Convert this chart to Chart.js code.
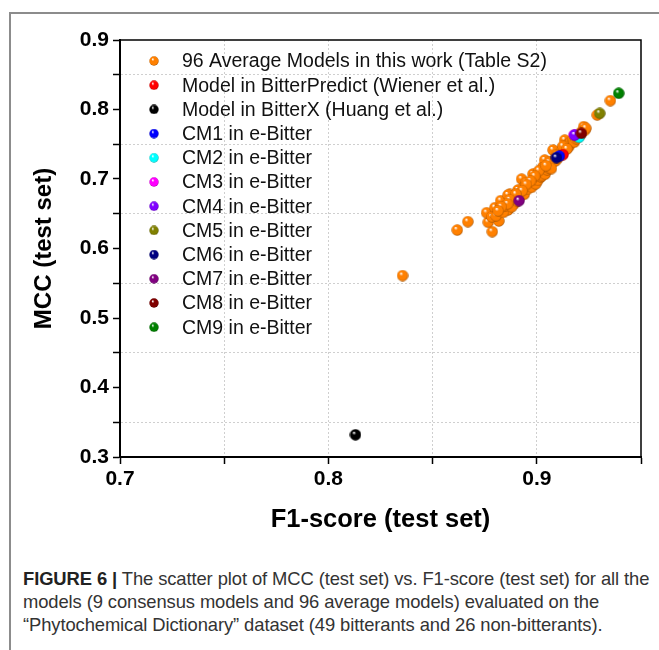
<!DOCTYPE html>
<html>
<head>
<meta charset="utf-8">
<script src="https://cdn.jsdelivr.net/npm/chart.js@4.4.1/dist/chart.umd.min.js"></script>
<style>
  body { margin: 0; background: #fff; width: 659px; height: 650px; overflow: hidden; position: relative; font-family: "Liberation Sans", Arial, sans-serif; }
  #frame { position: absolute; left: 9px; top: 12px; right: 0; bottom: 0; border-left: 2px solid #8c8c8c; border-top: 2px solid #8c8c8c; }
  #wrap { position: absolute; left: 0; top: 0; width: 659px; height: 545px; }
  #caption { position: absolute; left: 23px; top: 567px; font-size: 18.4px; line-height: 23px; color: #333; white-space: nowrap; letter-spacing: -0.1px; }
  #caption b { color: #222; }
</style>
</head>
<body>
<div id="frame"></div>
<div id="wrap"><canvas id="mcc-f1-chart" width="659" height="545"></canvas></div>
<div id="caption">
  <b>FIGURE 6 |</b> The scatter plot of MCC (test set) vs. F1-score (test set) for all the<br>
  models (9 consensus models and 96 average models) evaluated on the<br>
  “Phytochemical Dictionary” dataset (49 bitterants and 26 non-bitterants).
</div>
<script>
// 96 average models (many overlap in the band)
const avgF1 = [
  0.8618, 0.8669, 0.8786, 0.8767, 0.8818, 0.8759, 0.8799, 0.8827, 0.8823, 0.8862,
  0.8870, 0.8894, 0.8927, 0.8918, 0.8947, 0.8982, 0.9014, 0.9030, 0.8356, 0.9353,
  0.9290, 0.9225, 0.9134, 0.9123, 0.9078, 0.9038, 0.9030, 0.8934, 0.8910, 0.8862,
  0.8785, 0.8805, 0.8840, 0.8850, 0.8880, 0.8895, 0.8905, 0.8920, 0.8940, 0.8955,
  0.8960, 0.8975, 0.8985, 0.8995, 0.9000, 0.9005, 0.9020, 0.9025, 0.9035, 0.9040,
  0.9050, 0.9055, 0.9060, 0.9065, 0.9070, 0.9075, 0.9085, 0.9090, 0.9100, 0.9105,
  0.9110, 0.9115, 0.9120, 0.9130, 0.9135, 0.9140, 0.9150, 0.9155, 0.9160, 0.9165,
  0.9175, 0.9180, 0.9190, 0.9195, 0.9205, 0.9210, 0.9215, 0.9230, 0.9235, 0.9010,
  0.8990, 0.8970, 0.8950, 0.8930, 0.8900, 0.8870, 0.8860, 0.8830, 0.8815, 0.9060,
  0.9095, 0.9125, 0.9070, 0.9045, 0.9145, 0.9185
];
const avgMCC = [
  0.6266, 0.6386, 0.6242, 0.6377, 0.6396, 0.6515, 0.6588, 0.6688, 0.6564, 0.6554,
  0.6780, 0.6650, 0.6999, 0.6817, 0.6947, 0.7072, 0.7082, 0.7177, 0.5610, 0.8127,
  0.7920, 0.7753, 0.7560, 0.7442, 0.7417, 0.7273, 0.7154, 0.6866, 0.6842, 0.6770,
  0.6455, 0.6470, 0.6520, 0.6610, 0.6600, 0.6720, 0.6690, 0.6750, 0.6780, 0.6850,
  0.6900, 0.6880, 0.6950, 0.6930, 0.7000, 0.6980, 0.7030, 0.7050, 0.7100, 0.7070,
  0.7130, 0.7160, 0.7200, 0.7180, 0.7230, 0.7250, 0.7280, 0.7260, 0.7300, 0.7330,
  0.7350, 0.7380, 0.7400, 0.7420, 0.7460, 0.7480, 0.7500, 0.7470, 0.7520, 0.7540,
  0.7560, 0.7530, 0.7580, 0.7600, 0.7620, 0.7650, 0.7680, 0.7700, 0.7730, 0.7120,
  0.7040, 0.6970, 0.6920, 0.6830, 0.6780, 0.6700, 0.6640, 0.6600, 0.6540, 0.7240,
  0.7340, 0.7470, 0.7150, 0.7190, 0.7430, 0.7620
];

// single models
const modelNames = [
  'Model in BitterPredict (Wiener et al.)',
  'Model in BitterX (Huang et al.)',
  'CM1 in e-Bitter', 'CM2 in e-Bitter', 'CM3 in e-Bitter', 'CM4 in e-Bitter',
  'CM5 in e-Bitter', 'CM6 in e-Bitter', 'CM7 in e-Bitter', 'CM8 in e-Bitter',
  'CM9 in e-Bitter'
];
const modelF1 = [0.9126, 0.8130, 0.9108, 0.9203, 0.9180, 0.9182, 0.9302, 0.9094, 0.8915, 0.9214, 0.9393];
const modelMCC = [0.7350, 0.3320, 0.7330, 0.7600, 0.7635, 0.7633, 0.7945, 0.7307, 0.6688, 0.7657, 0.8233];

const avgLabel = '96 Average Models in this work (Table S2)';
const xTicks = [0.7, 0.8, 0.9];

// styling
const avgColor = '#ff8000';
const modelColors = ['#ff0000', '#000000', '#0000ff', '#00ffff', '#ff00ff', '#8000ff',
                     '#808000', '#000080', '#800080', '#800000', '#008000'];

// glossy ball markers like Origin draws them
function ball(hex, d) {
  const c = document.createElement('canvas');
  c.width = d; c.height = d;
  const g = c.getContext('2d');
  const r = d / 2;
  const n = parseInt(hex.slice(1), 16);
  const rr = n >> 16, gg = (n >> 8) & 255, bb = n & 255;
  const dark = `rgb(${Math.round(rr * 0.6)},${Math.round(gg * 0.6)},${Math.round(bb * 0.6)})`;
  const grad = g.createRadialGradient(r * 0.72, r * 0.62, r * 0.05, r, r, r);
  grad.addColorStop(0, '#ffffff');
  grad.addColorStop(0.28, hex);
  grad.addColorStop(0.78, hex);
  grad.addColorStop(1, dark);
  g.fillStyle = grad;
  g.beginPath();
  g.arc(r, r, r - 0.3, 0, Math.PI * 2);
  g.fill();
  return c;
}

const allColors = [avgColor].concat(modelColors);
const dots = allColors.map(c => ball(c, 12));
const legendDots = allColors.map(c => ball(c, 10));

const datasets = [{
  label: avgLabel,
  data: avgF1.map((x, i) => ({ x: x, y: avgMCC[i] })),
  pointStyle: dots[0],
  order: 11
}];
modelNames.forEach((name, i) => {
  datasets.push({
    label: name,
    data: [{ x: modelF1[i], y: modelMCC[i] }],
    pointStyle: dots[i + 1],
    order: 10 - i
  });
});

const isMajor = v => Math.round(v * 100) % 10 === 0;

const frameBox = {
  id: 'frameBox',
  afterDraw(chart) {
    const { ctx, chartArea } = chart;
    ctx.save();
    ctx.strokeStyle = '#000';
    ctx.lineWidth = 1.5;
    ctx.beginPath();
    ctx.moveTo(chartArea.left, chartArea.top);
    ctx.lineTo(chartArea.right, chartArea.top);
    ctx.lineTo(chartArea.right, chartArea.bottom);
    ctx.stroke();
    ctx.restore();
  }
};

const insideLegend = {
  id: 'insideLegend',
  afterDraw(chart) {
    const { ctx, chartArea } = chart;
    ctx.save();
    ctx.font = '19.5px "Liberation Sans", Arial, sans-serif';
    ctx.fillStyle = '#111';
    ctx.textBaseline = 'middle';
    chart.data.datasets.forEach((ds, i) => {
      const y = chartArea.top + 21 + i * 24.2;
      ctx.drawImage(legendDots[i], chartArea.left + 34 - 5, y - 5, 10, 10);
      ctx.fillText(ds.label, chartArea.left + 62, y + 1);
    });
    ctx.restore();
  }
};

new Chart(document.getElementById('mcc-f1-chart'), {
  type: 'scatter',
  data: { datasets: datasets },
  options: {
    responsive: false,
    animation: false,
    layout: { padding: { top: 40, right: 18, left: 0, bottom: 0 } },
    elements: { point: { radius: 6 } },
    plugins: {
      legend: { display: false },
      tooltip: { enabled: false }
    },
    scales: {
      x: {
        type: 'linear',
        min: 0.7,
        max: 0.95,
        afterFit: s => { s.height = 88; },
        ticks: {
          stepSize: 0.05,
          color: '#000',
          padding: 3,
          maxRotation: 0,
          autoSkip: false,
          font: { family: '"Liberation Sans", Arial, sans-serif', size: 21, weight: 'bold' },
          callback: v => (isMajor(v) && xTicks.some(t => Math.abs(t - v) < 1e-6)) ? v.toFixed(1) : ''
        },
        grid: {
          color: c => (c.tick && (c.tick.value <= 0.7001 || c.tick.value >= 0.9499)) ? 'rgba(0,0,0,0)' : '#cfcfcf',
          lineWidth: 1,
          tickLength: 7,
          tickColor: '#000',
          tickWidth: 1.5
        },
        border: { display: true, color: '#000', width: 2, dash: [2, 2] },
        title: {
          display: true,
          text: 'F1-score (test set)',
          color: '#000',
          font: { family: '"Liberation Sans", Arial, sans-serif', size: 25.5, weight: 'bold' },
          padding: { top: 0, bottom: 10 }
        }
      },
      y: {
        type: 'linear',
        min: 0.3,
        max: 0.9,
        afterFit: s => { s.width = 120; },
        ticks: {
          stepSize: 0.05,
          color: '#000',
          padding: 4,
          autoSkip: false,
          font: { family: '"Liberation Sans", Arial, sans-serif', size: 21, weight: 'bold' },
          callback: v => isMajor(v) ? v.toFixed(1) : ''
        },
        grid: {
          color: c => (c.tick && !isMajor(c.tick.value)) ? '#cfcfcf' : 'rgba(0,0,0,0)',
          lineWidth: 1,
          tickLength: 7,
          tickColor: '#000',
          tickWidth: 1.5
        },
        border: { display: true, color: '#000', width: 2, dash: [2, 2] },
        title: {
          display: true,
          text: 'MCC (test set)',
          color: '#000',
          font: { family: '"Liberation Sans", Arial, sans-serif', size: 24, weight: 'bold' },
          padding: { top: 30, bottom: 0 }
        }
      }
    }
  },
  plugins: [frameBox, insideLegend]
});
</script>
</body>
</html>
